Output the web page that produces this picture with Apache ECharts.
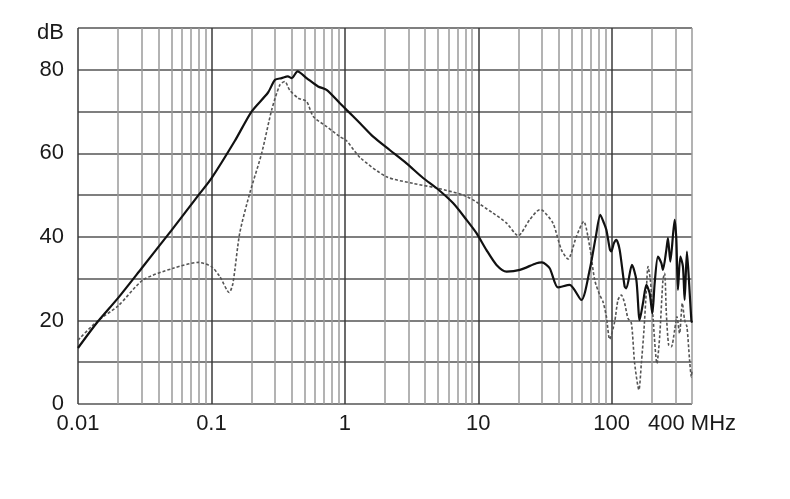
<!DOCTYPE html>
<html>
<head>
<meta charset="utf-8">
<script src="https://cdn.jsdelivr.net/npm/echarts@6/dist/echarts.min.js"></script>
<style>
html,body{margin:0;padding:0;background:#fff;}
#chart{width:790px;height:499px;}
</style>
</head>
<body>
<div id="chart"></div>
<script>
// Frequency grid (MHz) for vertical lines
const gridFreqs = [0.01,0.02,0.03,0.04,0.05,0.06,0.07,0.08,0.09,
  0.1,0.2,0.3,0.4,0.5,0.6,0.7,0.8,0.9,
  1,2,3,4,5,6,7,8,9,
  10,20,30,40,50,60,70,80,90,
  100,200,300,400];
const xLabels = [0.01,0.1,1,10,100,400];

// Solid curve
const solidF = [0.01,0.0139,0.02,0.03,0.05,0.08,0.1,0.15,0.2,0.265,0.3,0.336,0.374,0.40,0.442,0.517,0.63,0.73,0.918,1.03,1.3,1.63,2.17,2.9,3.86,4.86,6.47,8.16,9.7,11.5,13.7,16.3,20.5,27.3,30,34.3,39.6,48.4,59.3,68.4,76,82.2,87,91.2,97,99.3,104,108.4,114.8,125.1,128.8,141.9,153.1,162.1,171.6,182,192.6,201.8,210,222.3,235.7,242.3,256.9,264.1,275.3,296.5,305.3,313.8,327.1,342.1,352.3,366.4,379.3,395.4,400];
const solidDB = [13.4,19.5,25.4,32.5,41.5,50.0,54.0,63.0,70.0,74.5,77.6,78.0,78.4,78.0,79.6,78.0,76.0,75.2,72.0,70.4,67.2,64.0,60.8,57.6,54.1,51.7,48.1,44.1,40.9,36.9,33.3,31.7,32.1,33.7,33.9,32.5,27.9,28.5,24.9,32.1,40.0,45.3,43.5,41.7,37.0,36.5,38.5,39.3,36.9,28.1,27.7,33.3,29.7,20.1,24.1,28.5,26.5,21.7,28.9,35.3,33.7,32.1,36.9,39.7,34.1,44.1,39.3,27.3,35.3,32.9,24.9,36.5,29.7,20.1,19.5];

// Dashed curve
const dashF = [0.01,0.0139,0.02,0.0308,0.0518,0.08,0.1,0.1157,0.136,0.145,0.163,0.194,0.238,0.283,0.326,0.355,0.385,0.447,0.517,0.58,0.73,0.918,1.03,1.3,2.05,3.25,4.86,8.16,12.9,16.3,19.9,24.3,28.9,30.5,36.3,42,47.1,54.4,61.7,68.4,74.6,81.3,86.1,91.3,96.6,105.3,111.5,118.2,125.1,132.5,140.6,148.7,160,166.9,174.6,182,187.1,195,203.9,218.4,228.9,242.3,249.6,256.9,267.4,280,296.5,308.4,322.7,338.5,352.3,366.4,383.7,395.4,400];
const dashDB = [15.3,19.8,23.5,29.7,32.5,33.9,32.9,30.5,26.7,28.9,40.9,50.5,60.0,70.4,76.4,77.2,75.2,73.2,72.4,68.8,66.4,64.0,63.0,59.0,54.4,52.8,51.7,49.7,45.7,43.3,40.3,44.1,46.5,46.3,43.3,36.9,34.7,40.1,43.7,37.7,29.7,26.1,24.5,20.9,15.5,19.7,24.9,26.1,24.1,20.5,19.3,9.7,3.4,9.7,17.7,27.3,32.9,29.7,20.9,9.7,16.1,29.7,31.3,21.7,14.1,13.7,17.7,20.9,16.9,24.1,20.1,18.5,10.5,6.5,8.0];

const yLabels = {0:'0',20:'20',40:'40',60:'60',80:'80',90:'{u|dB}'};

const zip = (a,b) => a.map((v,i)=>[v,b[i]]);
const font = 'Liberation Sans, Arial, sans-serif';
const chart = echarts.init(document.getElementById('chart'));
const minorColors = ['#3a3a3a','#9a9a9a','#9a9a9a','#9a9a9a','#9a9a9a','#9a9a9a','#9a9a9a','#9a9a9a','#9a9a9a'];
chart.setOption({
  animation:false,
  backgroundColor:'#fff',
  grid:{left:78,right:98,top:28,bottom:95,containLabel:false},
  xAxis:{
    type:'log', logBase:10, min:0.01, max:400,
    axisLine:{show:false},
    axisTick:{show:false, customValues:gridFreqs},
    splitLine:{show:true, lineStyle:{color:minorColors, width:1.5}},
    axisLabel:{customValues:xLabels, color:'#1a1a1a', fontSize:22, fontFamily:font, margin:9,
      formatter:v=>{const n=Number(Number(v).toPrecision(6)); return n===400?'400 MHz':String(n);}}
  },
  yAxis:{
    type:'value', min:0, max:90, interval:10,
    axisLine:{show:false}, axisTick:{show:false},
    splitLine:{show:true, lineStyle:{color:'#555', width:1.5}},
    axisLabel:{color:'#1a1a1a', fontSize:22, fontFamily:font, margin:14,
      rich:{u:{fontSize:22, fontFamily:font, color:'#1a1a1a', padding:[10,0,0,0]}},
      formatter:v=> yLabels[v]!==undefined?yLabels[v]:''}
  },
  series:[
    {type:'line', data:zip(dashF,dashDB), symbol:'none', z:3, smooth:0.25,
     lineStyle:{color:'#555', width:1.6, type:[3,2]}},
    {type:'line', data:zip(solidF,solidDB), symbol:'none', z:4, smooth:0.25,
     lineStyle:{color:'#111', width:2.2}}
  ]
});
</script>
</body>
</html>
